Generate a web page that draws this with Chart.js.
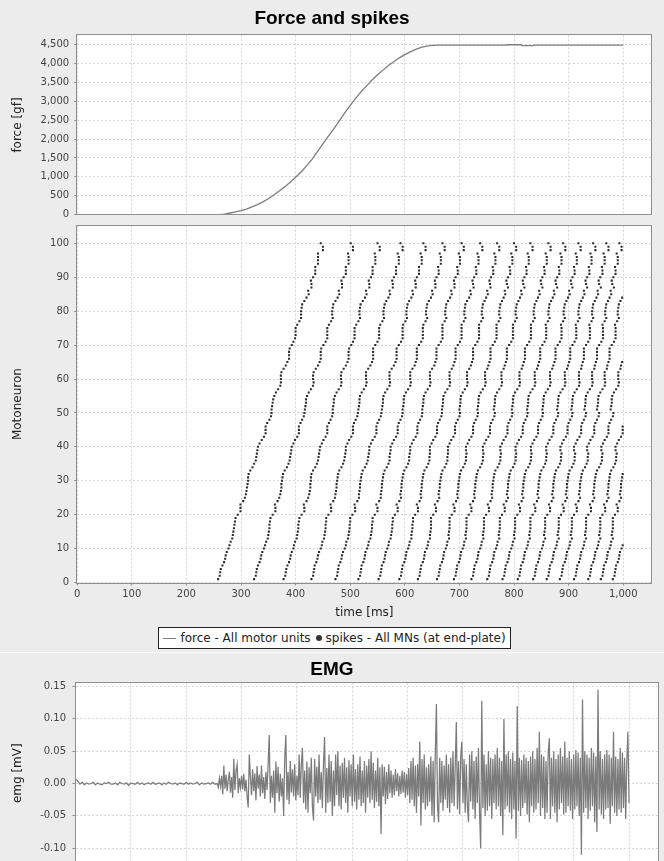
<!DOCTYPE html>
<html>
<head>
<meta charset="utf-8">
<title>Force and spikes / EMG</title>
<script src="https://cdn.jsdelivr.net/npm/chart.js@4.4.1/dist/chart.umd.min.js"></script>
<style>
  html, body { margin: 0; padding: 0; }
  body {
    width: 664px; height: 861px; overflow: hidden; position: relative;
    background: #ececec; font-family: "DejaVu Sans", sans-serif;
  }
  canvas { position: absolute; left: 0; }
  .title {
    position: absolute; left: 0; width: 664px; text-align: center;
    font: bold 19px/22px "Liberation Sans", Arial, sans-serif; color: #000;
  }
  #legend {
    position: absolute; left: 158px; top: 627px; width: 353px; height: 22px;
    box-sizing: border-box; border: 1px solid #222; background: #fff;
    display: flex; align-items: center; justify-content: center; white-space: nowrap;
    font: 12px "DejaVu Sans", sans-serif; color: #222;
  }
  .swatch-line { display: inline-block; width: 13px; height: 1px; background: #808080; margin-right: 4px; }
  .swatch-dot { display: inline-block; width: 6px; height: 6px; border-radius: 50%; background: #333; margin: 0 4px 0 5px; }
  #sep { position: absolute; left: 0; top: 652px; width: 664px; height: 1px; background: #fafafa; }
</style>
</head>
<body>
<canvas id="forceChart" width="664" height="220" style="top:0"></canvas>
<canvas id="spikeChart" width="664" height="398" style="top:222px"></canvas>
<canvas id="emgChart" width="664" height="239" style="top:656px"></canvas>
<div class="title" style="top:7px">Force and spikes</div>
<div id="legend">
  <span class="swatch-line"></span><span>force - All motor units</span>
  <span class="swatch-dot"></span><span>spikes - All MNs (at end-plate)</span>
</div>
<div id="sep"></div>
<div class="title" style="top:658px">EMG</div>

<script>
// axis ticks
const timeTicks = [0, 100, 200, 300, 400, 500, 600, 700, 800, 900, 1000];
const forceTicks = [0, 500, 1000, 1500, 2000, 2500, 3000, 3500, 4000, 4500];
const motoneuronTicks = [0, 10, 20, 30, 40, 50, 60, 70, 80, 90, 100];
const emgTicks = [-0.1, -0.05, 0, 0.05, 0.1, 0.15];

// force of all motor units [gf]
const forceTimes = [0, 250, 260, 270, 280, 290, 300, 310, 320, 330, 340, 350, 360, 370, 380, 390, 400, 410, 420, 430, 440, 450, 460, 470, 480, 490, 500, 510, 520, 530, 540, 550, 560, 570, 580, 590, 600, 610, 620, 630, 640, 650, 660, 670, 780, 790, 812, 815, 835, 838, 1000];
const forceValues = [0, 0, 0, 15, 45, 75, 106, 150, 205, 265, 340, 420, 520, 625, 735, 855, 990, 1130, 1290, 1460, 1665, 1870, 2075, 2270, 2480, 2690, 2890, 3075, 3250, 3405, 3560, 3695, 3820, 3940, 4040, 4145, 4230, 4300, 4370, 4420, 4455, 4475, 4480, 4478, 4478, 4490, 4492, 4465, 4465, 4478, 4478];

// spike times [ms] of each firing wave, one entry per motoneuron (1, 2, 3 ...)
const wave01 = [258,261,262,263,266,269,271,272,274,277,279,281,284,285,286,287,288,289,290,294,299,299,299,304,307,309,310,311,312,313,313,314,317,321,324,327,328,329,330,331,334,338,342,345,345,345,348,352,355,356,356,357,358,359,361,364,368,372,373,373,373,374,378,382,385,388,388,388,389,393,396,399,400,400,400,403,407,410,410,410,411,412,416,420,424,423,429,429,428,432,436,436,436,441,441,441,441,450,450,446];
const wave02 = [324,327,328,329,331,334,336,337,339,342,344,346,349,350,351,352,352,353,354,358,363,363,362,367,370,372,373,374,374,375,376,377,380,384,387,389,390,391,392,393,396,399,403,406,406,406,409,412,415,416,417,418,419,419,421,424,428,432,433,432,432,433,437,441,444,446,446,446,447,451,455,458,458,458,458,461,465,468,467,467,468,469,473,477,480,479,485,485,484,488,492,492,492,497,497,497,496,505,505,501];
const wave03 = [378,381,382,383,385,388,390,391,393,396,397,399,402,403,404,405,405,406,407,411,416,416,415,420,423,425,426,427,427,428,428,429,432,436,439,441,442,443,444,445,448,451,455,458,458,458,461,464,467,468,468,469,470,470,472,475,479,483,484,483,483,484,488,492,495,497,497,497,498,502,505,508,508,508,508,511,515,518,517,517,518,519,523,527,530,529,535,535,534,538,541,541,541,546,546,546,545,554,554,550];
const wave04 = [429,432,433,434,435,438,440,441,443,446,448,449,452,453,454,455,455,456,456,460,465,465,464,469,472,473,474,475,475,476,477,478,480,484,487,489,490,491,492,492,495,498,502,505,505,505,507,510,513,514,515,516,517,517,518,521,525,529,530,529,529,529,533,537,540,542,542,542,542,546,550,553,553,553,553,555,559,562,561,561,562,563,566,570,573,572,578,578,577,580,584,584,584,589,589,589,587,596,596,592];
const wave05 = [473,476,477,478,479,482,484,485,487,490,492,493,496,497,498,499,499,500,500,504,509,509,508,513,516,516,517,518,518,519,520,521,523,527,530,532,533,534,535,535,538,541,545,548,548,548,550,553,556,557,558,559,560,560,561,564,568,572,573,572,572,572,576,580,583,585,585,585,585,589,593,596,596,596,596,597,601,604,603,603,604,605,608,612,615,614,620,620,619,622,626,626,626,631,631,631,629,638,638,634];
const wave06 = [515,518,519,520,521,524,526,527,528,531,533,534,537,538,539,540,540,541,541,545,550,550,548,553,556,556,557,558,558,559,560,561,563,567,570,572,572,573,574,574,577,580,584,587,587,587,589,592,595,596,596,597,598,598,599,602,606,610,611,610,610,610,614,618,620,622,622,622,622,626,630,633,633,633,633,634,638,641,639,639,640,641,644,648,651,650,656,656,655,658,662,662,661,666,666,666,664,673,673,669];
const wave07 = [552,555,556,557,558,561,563,564,565,568,570,571,574,575,576,577,577,578,578,582,587,587,585,590,593,592,593,594,594,595,596,597,599,603,606,608,608,609,610,610,613,616,620,623,623,623,625,628,631,632,632,633,634,634,635,638,642,646,647,646,646,646,650,654,656,658,658,658,658,662,666,669,669,669,669,669,673,676,674,674,675,676,679,683,686,685,691,691,690,693,697,697,696,701,701,701,699,708,708,704];
const wave08 = [590,593,594,595,596,599,601,602,603,606,608,609,612,612,613,614,614,615,615,619,624,624,622,627,630,629,630,631,631,632,633,634,636,640,643,645,645,646,646,646,649,652,656,659,659,659,661,664,667,668,668,669,670,670,671,674,678,682,683,682,682,682,686,689,691,693,693,693,693,697,701,704,704,704,704,704,708,711,709,709,710,711,714,718,721,720,726,725,724,727,731,731,730,735,735,735,733,742,742,738];
const wave09 = [624,627,628,629,630,633,635,636,637,640,642,643,646,646,647,648,648,648,648,652,657,657,655,660,663,662,663,664,664,665,666,667,669,673,676,678,678,679,679,679,682,685,689,692,692,692,694,697,700,701,700,701,702,702,703,706,710,714,715,714,714,714,718,721,723,725,725,725,725,729,733,736,736,736,736,736,740,743,741,741,742,743,746,749,752,751,757,756,755,758,762,762,761,766,766,766,764,773,773,769];
const wave10 = [659,662,663,664,665,668,670,671,672,675,677,678,681,680,681,682,682,682,682,686,691,691,689,694,697,696,697,698,698,699,700,701,703,707,710,712,712,713,712,712,715,718,722,725,725,725,727,730,733,734,733,734,735,735,736,739,743,747,748,747,747,747,751,753,755,757,757,757,757,761,765,768,768,768,768,768,772,775,773,773,774,775,778,781,784,783,789,787,786,789,793,793,792,797,797,797,795,804,804,800];
const wave11 = [690,693,694,695,696,699,701,702,703,706,708,709,712,711,712,713,713,713,713,717,722,722,720,725,728,727,728,729,729,730,731,732,734,738,741,743,743,744,743,743,746,749,753,756,756,756,758,761,764,765,763,764,765,765,766,769,773,777,778,777,777,777,781,783,785,787,787,787,787,791,795,798,798,798,798,798,802,805,803,803,804,805,808,811,814,813,819,817,816,819,823,823,822,827,827,827,825,834,834,830];
const wave12 = [722,725,726,727,728,731,733,734,735,738,740,741,744,743,744,745,745,745,745,749,754,754,752,757,760,759,760,761,761,762,763,764,766,770,773,775,775,776,775,775,778,781,785,788,788,788,790,793,796,797,796,797,798,798,799,802,806,810,811,810,810,810,814,816,818,820,820,820,820,824,828,831,831,831,831,831,835,838,836,836,837,838,841,844,847,846,852,850,849,852,856,856,855,860,860,860,858,867,867,863];
const wave13 = [751,754,755,756,757,760,762,763,764,767,769,770,773,772,773,774,774,774,774,778,783,783,781,786,789,787,788,789,789,790,791,792,794,798,801,803,803,804,803,803,806,809,813,816,816,816,818,821,824,825,824,825,826,826,827,830,834,838,839,838,838,838,842,844,846,848,848,848,848,852,856,859,859,859,859,858,862,865,863,863,864,865,868,871,874,873,879,877,876,879,883,883,882,887,887,887,885,894,894,890];
const wave14 = [779,782,783,784,785,788,790,791,792,795,797,798,801,800,801,802,802,802,802,806,811,811,809,814,817,815,816,817,817,818,819,820,822,826,829,831,831,832,831,831,834,837,841,844,844,844,846,849,852,853,852,853,854,854,855,858,862,866,867,866,866,866,870,872,874,876,876,876,876,880,884,887,887,887,887,886,890,893,891,891,892,893,896,899,902,901,907,905,904,907,911,911,910,915,915,915,913,922,922,918];
const wave15 = [807,810,811,812,813,816,818,819,820,823,825,826,829,828,829,830,830,830,830,834,839,839,837,842,845,843,844,845,845,846,847,848,850,854,857,859,859,860,859,859,862,865,869,872,872,872,874,877,880,881,879,880,881,881,882,885,889,893,894,893,893,893,897,899,901,903,903,903,903,907,911,914,914,914,914,913,917,920,918,918,919,920,923,926,929,928,934,932,931,934,938,938,937,942,942,942,940,949,949,945];
const wave16 = [835,838,839,840,841,844,846,847,848,851,853,854,857,855,856,857,857,857,857,861,866,866,864,869,872,870,871,872,872,873,874,875,877,881,884,886,886,887,885,885,888,891,895,898,898,898,900,903,906,907,905,906,907,907,908,911,915,919,920,919,919,919,923,924,926,928,928,928,928,932,936,939,939,939,939,938,942,945,943,943,944,945,948,951,954,953,959,956,955,958,962,962,961,966,966,966,964,973,973,969];
const wave17 = [860,863,864,865,866,869,871,872,873,876,878,879,882,880,881,882,882,882,882,886,891,891,889,894,897,895,896,897,897,898,899,900,902,906,909,911,911,912,910,910,913,916,920,923,923,923,925,928,931,932,929,930,931,931,932,935,939,943,944,943,943,943,947,948,950,952,952,952,952,956,960,963,963,963,963,962,966,969,967,967,968,969,972,975,978,977,983,980,979,982,986,986,985,990,990,990,988,997,997,993];
const wave18 = [884,887,888,889,890,893,895,896,897,900,902,903,906,904,905,906,906,906,906,910,915,915,913,918,921,919,920,921,921,922,923,924,926,930,933,935,935,936,934,934,937,940,944,947,947,947,949,952,955,956,952,953,954,954,955,958,962,966,967,966,966,966,970,971,973,975,975,975,975,979,983,986,986,986,986,985,989,992,990,990,991,992,995,998];
const wave19 = [910,913,914,915,916,919,921,922,923,926,928,929,932,930,931,932,932,932,932,936,941,941,939,944,947,945,946,947,947,948,949,950,952,956,959,961,961,962,960,960,963,966,970,973,973,973,975,978,981,982,977,978,979,979,980,983,987,991,992,991,991,991,995,996,998];
const wave20 = [936,939,940,941,942,945,947,948,949,952,954,955,958,956,957,958,958,958,958,962,967,967,965,970,973,971,972,973,973,974,975,976,978,982,985,987,987,988,986,986,989,992,996,999,999,999];
const wave21 = [959,962,963,964,965,968,970,971,972,975,977,978,981,979,980,981,981,981,981,985,990,990,988,993,996,994,995,996,996,997,998,999];
const wave22 = [981,984,985,986,987,990,992,993,994,997,999];
const spikeWaves = [wave01, wave02, wave03, wave04, wave05, wave06, wave07, wave08, wave09, wave10, wave11,
  wave12, wave13, wave14, wave15, wave16, wave17, wave18, wave19, wave20, wave21, wave22];

// EMG [uV]: resting part sampled every 4 ms from 0, active part every 2 ms from 258 ms
const emgRestStep = 4;
const emgRest = [7,4,-1,2,-2,1,-1,0,2,-2,1,-1,-2,1,0,2,-1,-1,1,-2,2,0,-1,1,-3,1,0,-1,2,-1,1,-2,0,1,-1,2,-1,0,1,-2,1,-1,2,0,-1,1,-2,1,0,-1,2,-1,1,-1,0,2,-2,1,-1,0,1,-1,2,-1,0];
const emgActiveStart = 258;
const emgActiveStep = 2;
const emgActive = [
  -6,8,-4,12,-17,28,-8,14,-12,6,18,-14,10,-22,38,-10,20,30,-15,8,-6,12,-9,15,-12,
  6,-20,-37,45,10,-18,22,-12,16,-26,27,-8,14,-20,28,-15,10,-24,18,-10,30,75,-30,12,-22,
  20,-45,34,-15,26,-28,15,-20,8,-50,40,75,-25,18,-32,35,-14,22,-20,30,-26,12,-18,45,-22,
  30,55,-30,20,-40,34,-45,25,-15,40,-35,-57,38,-20,26,-30,45,-25,18,-38,30,72,-45,24,-30,
  45,-28,35,-50,20,-35,45,-18,50,-35,28,-40,32,-22,40,-30,25,-45,36,-20,30,-35,45,-28,22,
  -40,30,-25,42,-35,20,-30,35,-45,28,-22,38,-30,50,-25,32,-38,20,-28,40,-35,25,-78,30,-20,
  26,-32,18,-24,30,-15,20,-22,14,-18,22,-12,16,-20,12,-16,20,-14,18,-22,15,-18,24,-30,35,
  -25,40,-35,28,-45,30,-20,65,-65,38,-30,45,-40,25,-35,30,-28,42,-50,35,-60,45,123,-35,-60,
  40,-30,35,-42,28,-25,45,-38,30,-45,40,-30,50,-35,25,95,-40,35,-48,42,65,-30,38,-45,30,
  -35,-60,45,-28,50,-40,35,-55,42,-30,55,-45,-100,128,-38,45,-50,30,-42,50,-35,40,-55,38,-30,
  45,-40,55,-35,40,-50,35,-80,100,-40,45,-35,50,-45,38,-55,48,-40,35,-85,120,-42,40,-50,36,
  -38,45,-30,40,-48,35,-60,42,-35,50,-45,38,-40,55,-30,80,-50,45,-38,42,-55,35,-45,48,70,
  -55,40,-35,50,-45,38,-60,45,-40,55,-30,42,-48,65,-45,40,-35,50,-42,38,-55,45,-40,52,-35,
  48,-50,40,-110,130,-45,50,-38,45,-55,40,-42,55,-35,48,-60,42,-75,145,-40,50,-48,38,-55,45,
  -40,52,-38,45,-62,40,-35,80,-45,42,-50,38,-40,55,-45,48,-38,40,-55,35,80,-30
];

Chart.defaults.font.family = '"DejaVu Sans", sans-serif';
Chart.defaults.color = '#333';

// white plot area and grey outline, like the original plots
const plotFrame = {
  id: 'plotFrame',
  beforeDraw(chart) {
    const { ctx, chartArea: a } = chart;
    ctx.save();
    ctx.fillStyle = '#ffffff';
    ctx.fillRect(a.left, a.top, a.right - a.left, a.bottom - a.top);
    ctx.restore();
  },
  afterDraw(chart) {
    const { ctx, chartArea: a } = chart;
    ctx.save();
    ctx.strokeStyle = '#8f8f8f';
    ctx.lineWidth = 1;
    ctx.strokeRect(Math.round(a.left) - 0.5, Math.round(a.top) - 0.5,
      Math.round(a.right - a.left) + 1, Math.round(a.bottom - a.top) + 1);
    ctx.restore();
  }
};

function fixedTicks(values) {
  return scale => { scale.ticks = values.map(v => ({ value: v })); };
}
function yWidth(w) {
  return scale => { scale.width = w; scale.paddingTop = 0; scale.paddingBottom = 0; };
}
function xHeight(h) {
  return scale => { scale.height = h; scale.paddingLeft = 0; scale.paddingRight = 0; };
}

const gridStyle = { color: '#d6d6d6', lineWidth: 1, tickLength: 3, tickColor: '#8f8f8f' };
const dashed = { display: false, dash: [2, 2] };
const tickFont = { size: 10 };
const titleFont = { size: 12 };
const commaFormat = v => v.toLocaleString('en-US');

const baseOptions = {
  responsive: false,
  animation: false,
  devicePixelRatio: 1,
  events: [],
  plugins: { legend: { display: false }, tooltip: { enabled: false } }
};

function timeAxis(extra) {
  return Object.assign({
    type: 'linear',
    min: 0,
    max: 1052,
    afterBuildTicks: fixedTicks(timeTicks),
    border: dashed
  }, extra);
}

// Force
const forcePoints = forceTimes.map((t, i) => ({ x: t, y: forceValues[i] }));
new Chart(document.getElementById('forceChart'), {
  type: 'line',
  data: {
    datasets: [{
      label: 'force - All motor units',
      data: forcePoints,
      borderColor: '#7d7d7d',
      borderWidth: 1.3,
      pointRadius: 0,
      tension: 0
    }]
  },
  options: Object.assign({}, baseOptions, {
    layout: { padding: { top: 35.3, right: 12.4, left: 0, bottom: 0 }, autoPadding: false },
    scales: {
      x: timeAxis({
        ticks: { display: false },
        grid: Object.assign({}, gridStyle, { drawTicks: false }),
        afterFit: xHeight(5.3)
      }),
      y: {
        type: 'linear',
        min: 0,
        max: 4740,
        afterBuildTicks: fixedTicks(forceTicks),
        afterFit: yWidth(77.2),
        grid: gridStyle,
        border: dashed,
        ticks: { font: tickFont, color: '#444', padding: 5, callback: commaFormat },
        title: { display: true, text: 'force [gf]', font: titleFont, color: '#222', padding: { top: 11, bottom: 0 } }
      }
    }
  }),
  plugins: [plotFrame]
});

// Spikes
const spikePoints = [];
spikeWaves.forEach(wave => {
  wave.forEach((t, i) => spikePoints.push({ x: t, y: i + 1 }));
});
new Chart(document.getElementById('spikeChart'), {
  type: 'scatter',
  data: {
    datasets: [{
      label: 'spikes - All MNs (at end-plate)',
      data: spikePoints,
      pointStyle: 'rect',
      pointRadius: 1.45,
      backgroundColor: '#2b2b2b',
      borderWidth: 0
    }]
  },
  options: Object.assign({}, baseOptions, {
    layout: { padding: { top: 3.7, right: 12.4, left: 0, bottom: 0 }, autoPadding: false },
    scales: {
      x: timeAxis({
        grid: gridStyle,
        ticks: { font: tickFont, color: '#444', padding: 3, maxRotation: 0, callback: commaFormat },
        title: { display: true, text: 'time [ms]', font: titleFont, color: '#222', padding: { top: 0, bottom: 0 } },
        afterFit: xHeight(37.5)
      }),
      y: {
        type: 'linear',
        min: 0,
        max: 105.2,
        afterBuildTicks: fixedTicks(motoneuronTicks),
        afterFit: yWidth(77.2),
        grid: gridStyle,
        border: dashed,
        ticks: { font: tickFont, color: '#444', padding: 5 },
        title: { display: true, text: 'Motoneuron', font: titleFont, color: '#222', padding: { top: 11, bottom: 0 } }
      }
    }
  }),
  plugins: [plotFrame]
});

// EMG
const emgPoints = [];
emgRest.forEach((v, i) => emgPoints.push({ x: i * emgRestStep, y: v / 1000 }));
emgActive.forEach((v, i) => emgPoints.push({ x: emgActiveStart + i * emgActiveStep, y: v / 1000 }));
new Chart(document.getElementById('emgChart'), {
  type: 'line',
  data: {
    datasets: [{
      label: 'emg',
      data: emgPoints,
      borderColor: '#7b7b7b',
      borderWidth: 1.25,
      pointRadius: 0,
      tension: 0
    }]
  },
  options: Object.assign({}, baseOptions, {
    layout: { padding: { top: 26.7, right: 6.2, left: 0, bottom: 0 }, autoPadding: false },
    scales: {
      x: timeAxis({
        grid: gridStyle,
        ticks: { font: tickFont, color: '#444', padding: 3, maxRotation: 0, callback: commaFormat },
        afterFit: xHeight(31.3)
      }),
      y: {
        type: 'linear',
        min: -0.124,
        max: 0.156,
        afterBuildTicks: fixedTicks(emgTicks),
        afterFit: yWidth(75.5),
        grid: gridStyle,
        border: dashed,
        ticks: { font: tickFont, color: '#444', padding: 6.5, callback: v => v.toFixed(2) },
        title: { display: true, text: 'emg [mV]', font: titleFont, color: '#222', padding: { top: 11, bottom: 0 } }
      }
    }
  }),
  plugins: [plotFrame]
});
</script>
</body>
</html>
